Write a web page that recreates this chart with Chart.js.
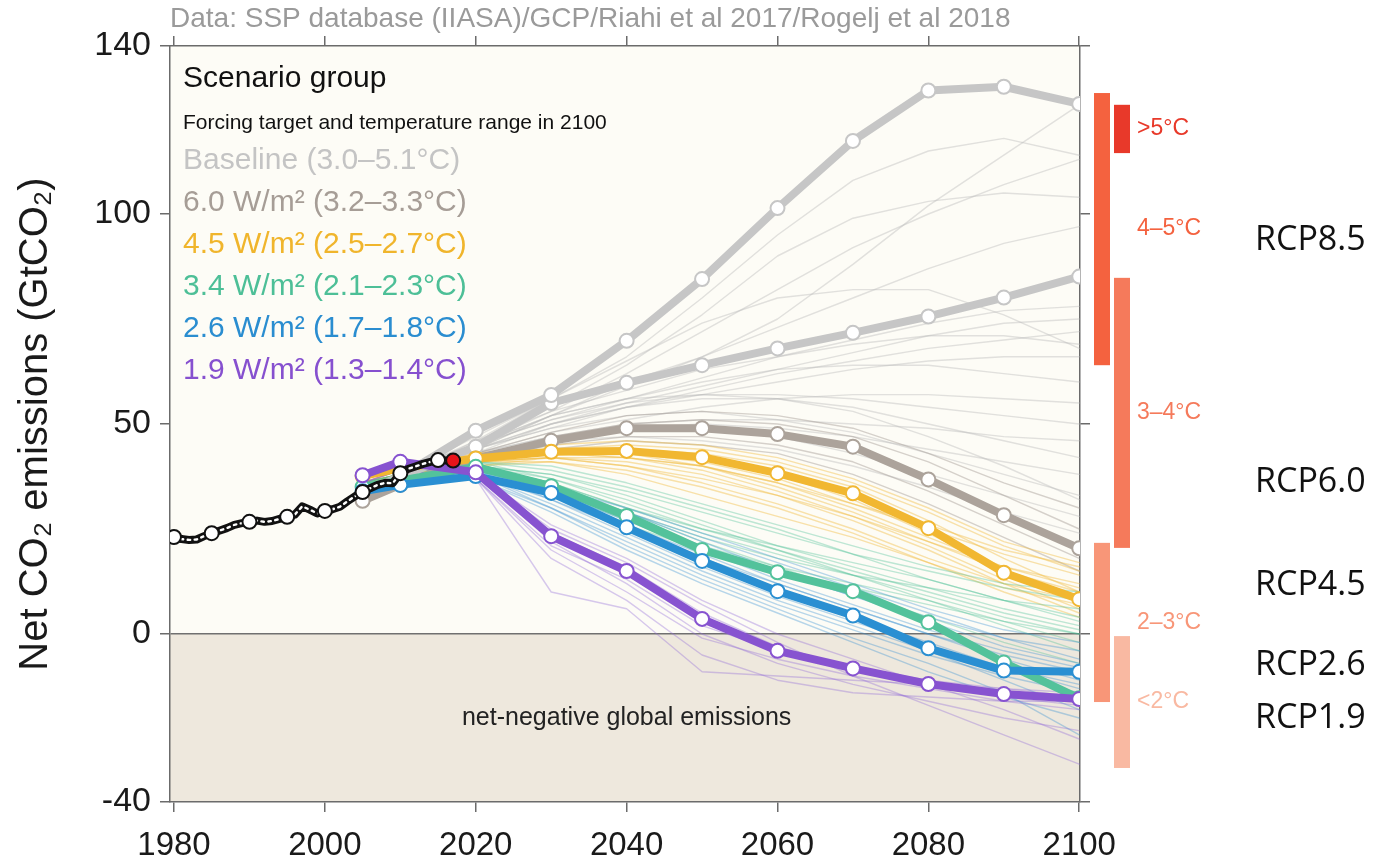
<!DOCTYPE html>
<html>
<head>
<meta charset="utf-8">
<script src="https://cdn.jsdelivr.net/npm/chart.js@4.4.1/dist/chart.umd.min.js"></script>
<style>
  html, body { margin: 0; padding: 0; background: #ffffff; }
  #wrap { width: 1375px; height: 865px; }
</style>
</head>
<body>
<div id="wrap"><canvas id="chart" width="1375" height="865"></canvas></div>
<script>
// ---- Historical net CO2 emissions (GtCO2 per year) ----
const histYears = [1980,1981,1982,1983,1984,1985,1986,1987,1988,1989,1990,1991,1992,1993,1994,1995,1996,1997,1998,1999,
                   2000,2001,2002,2003,2004,2005,2006,2007,2008,2009,2010,2011,2012,2013,2014,2015,2016,2017];
const histValues = [23.1,22.6,22.4,22.5,23.3,24.0,24.6,25.2,26.0,26.4,26.7,27.0,26.7,26.9,27.4,27.9,28.4,30.4,29.6,28.7,
                    29.3,29.7,30.3,31.6,32.8,33.8,34.7,35.5,36.0,35.9,38.3,39.3,39.9,40.5,41.0,41.4,41.3,41.3];

// ---- Scenario projections ----
const scenarioYears = [2005,2010,2020,2030,2040,2050,2060,2070,2080,2090,2100];

const groupNames = ['Baseline (3.0–5.1°C)', '6.0 W/m² (3.2–3.3°C)', '4.5 W/m² (2.5–2.7°C)',
                    '3.4 W/m² (2.1–2.3°C)', '2.6 W/m² (1.7–1.8°C)', '1.9 W/m² (1.3–1.4°C)'];

// group marker pathways
const baselineHigh = [33.5,37.5,48.4,56.9,69.8,84.5,101.4,117.4,129.4,130.3,126.2];
const baselineLow  = [33.5,37.5,44.6,55.0,59.8,64.0,68.0,71.7,75.6,80.1,85.1];
const forcing60    = [31.7,35.5,41.8,46.0,49.0,49.0,47.6,44.6,36.8,28.3,20.4];
const forcing45    = [37.6,39.5,41.8,43.4,43.6,42.1,38.3,33.5,25.2,14.6,8.3];
const forcing34    = [35.0,36.5,39.8,35.2,28.1,20.0,14.7,10.2,2.8,-6.8,-15.3];
const forcing26    = [34.0,35.5,37.6,33.6,25.4,17.4,10.2,4.4,-3.4,-8.7,-9.0];
const forcing19    = [37.8,41.0,38.5,23.3,15.0,3.6,-4.0,-8.2,-11.9,-14.3,-15.5];

// individual model runs per group
const baselineRuns = [
  [34,37,46,56,66,80,95,108,115,118,114],
  [34,38,45,54,64,76,90,99,103,105,104],
  [33,37,44,52,60,66,75,88,102,114,126],
  [34,37,45,53,62,72,82,92,100,107,113],
  [33,36,44,52,59,66,73,80,87,93,97],
  [34,38,47,56,65,74,80,82,82,76,68],
  [34,37,45,51,56,61,66,70,74,77,78],
  [33,36,43,50,55,59,63,67,71,74,75],
  [33,37,44,49,54,58,62,65,68,70,72],
  [34,38,46,53,58,63,66,69,71,71,69],
  [33,36,44,50,54,57,60,63,65,66,66],
  [33,37,45,52,56,60,63,64,64,62,60],
  [33,36,43,48,51,54,56,57,57,56,55],
  [34,37,45,51,55,57,57,56,54,52,50],
  [33,36,43,47,50,51,51,50,49,47,46],
  [33,37,44,50,54,56,56,54,50,46,42],
  [33,36,42,46,49,50,49,47,44,41,38],
  [34,37,44,49,52,53,51,48,43,38,33],
  [33,36,43,47,49,49,47,43,38,33,28],
  [33,36,42,46,47,46,44,40,35,29,24],
  [34,37,45,52,56,57,56,53,47,40,32]
];
const forcing60Runs = [
  [32,36,42,47,50,51,50,47,41,33,25],
  [32,35,41,45,47,47,45,41,34,26,18],
  [33,36,43,48,52,53,52,49,43,36,30],
  [32,35,41,44,46,45,43,38,31,23,15]
];
const forcing45Runs = [
  [37,39,42,44,44,42,38,32,24,15,9],
  [36,39,41,43,42,40,35,29,22,16,12],
  [37,40,42,44,45,44,41,36,29,21,15],
  [36,38,41,42,41,38,33,27,20,12,5],
  [37,39,43,45,46,45,42,37,30,22,17],
  [36,38,40,41,39,35,30,24,17,10,4],
  [37,39,42,43,43,41,37,31,25,19,14],
  [36,39,41,42,40,37,33,28,22,15,10],
  [37,40,43,44,43,40,36,30,23,16,11],
  [36,38,41,41,38,33,28,23,17,11,7],
  [37,39,42,43,42,39,34,28,21,13,6],
  [36,38,40,42,42,40,36,31,26,20,16],
  [37,39,41,42,40,36,31,25,18,12,8],
  [36,39,42,44,44,43,40,35,27,18,10]
];
const forcing34Runs = [
  [35,37,40,36,30,24,19,14,9,4,0],
  [35,37,40,38,33,27,21,16,11,6,2],
  [36,38,41,37,31,25,20,15,10,5,1],
  [35,37,39,34,27,21,16,12,8,3,-2],
  [36,38,41,39,35,30,25,19,13,8,4],
  [35,37,40,37,32,26,20,14,8,2,-4],
  [36,38,40,36,29,23,18,14,11,8,6],
  [35,37,40,38,34,29,24,19,15,11,8],
  [35,37,39,35,29,22,16,10,4,-2,-7],
  [36,38,41,40,36,31,26,21,16,12,10],
  [35,37,40,36,30,25,21,17,13,8,3],
  [35,37,39,33,26,20,15,11,7,3,0]
];
const forcing26Runs = [
  [34,36,38,33,26,19,12,6,0,-5,-9],
  [34,36,38,35,29,22,15,9,3,-3,-7],
  [35,37,39,32,24,16,9,3,-3,-8,-12],
  [34,36,38,34,28,21,15,9,4,-1,-4],
  [34,36,37,30,22,14,7,1,-5,-10,-14],
  [35,37,39,34,27,20,13,7,1,-4,-8],
  [34,36,38,33,25,17,10,4,-2,-8,-13],
  [34,36,38,31,23,15,8,2,-4,-11,-18],
  [35,37,39,35,30,24,18,12,6,1,-2],
  [34,36,37,29,20,12,5,-2,-9,-15,-20],
  [34,36,38,32,25,18,12,6,0,-6,-11],
  [35,37,38,30,21,13,6,-1,-7,-14,-24],
  [34,36,38,34,29,23,17,11,5,-1,-6]
];
const forcing19Runs = [
  [37,40,38,24,16,5,-3,-8,-12,-15,-17],
  [37,40,37,10,6,-9,-10,-11,-12,-13,-14],
  [37,40,38,22,12,0,-7,-12,-16,-20,-23],
  [36,39,37,20,10,-1,-6,-10,-13,-16,-18],
  [37,40,38,26,18,8,0,-6,-12,-18,-25],
  [36,39,37,18,8,-5,-11,-14,-15,-16,-16],
  [37,40,38,25,17,7,-2,-10,-17,-24,-31],
  [36,39,37,21,13,2,-4,-8,-11,-13,-15]
];

// ---- Axes ----
const xTicks = [1980,2000,2020,2040,2060,2080,2100];
const yTicks = [-40,0,50,100,140];

// ---- 2100 emission ranges per warming class ----
const bandLabels = ['>5°C','4–5°C','3–4°C','2–3°C','<2°C'];
const bandLow    = [114.5, 64.0, 20.5, -16.2, -31.9];
const bandHigh   = [126.0, 128.8, 84.8, 21.7, -0.5];

// ---- RCP pathway names, at their emission level ----
const rcpLabels = ['RCP8.5','RCP6.0','RCP4.5','RCP2.6','RCP1.9'];
const rcpLevels = [93.8, 36.2, 11.7, -7.4, -20.0];

// ---- styles ----
const FONT = "'Liberation Sans', Arial, Helvetica, sans-serif";
const thickColors = ['#c6c6c6','#aca39b','#f1b731','#53c29b','#2a8fd2','#8753d0'];
const textColors  = ['#c4c4c4','#a69d96','#f0b52c','#4dbf97','#2a8dd0','#8650cf'];
const thinColors  = ['rgba(185,185,185,0.42)','rgba(165,155,148,0.45)','rgba(240,185,60,0.42)',
                     'rgba(75,190,150,0.36)','rgba(55,145,210,0.36)','rgba(145,105,215,0.36)'];
const bandColors  = ['#e8392a','#f4623f','#f57a5b','#f89678','#f9b9a2'];
const bandColumn  = [1,0,1,0,1];

const toPoints = (xs, ys) => ys.map((v, i) => ({ x: xs[i], y: v }));

const datasets = [];
const runGroups = [baselineRuns, forcing60Runs, forcing45Runs, forcing34Runs, forcing26Runs, forcing19Runs];
runGroups.forEach((runs, g) => {
  runs.forEach(run => datasets.push({
    data: toPoints(scenarioYears, run),
    borderColor: thinColors[g], borderWidth: 1.4,
    pointRadius: 0, order: 60 - g
  }));
});

const markerLines = [
  [baselineHigh, 0], [baselineLow, 0], [forcing60, 1], [forcing45, 2],
  [forcing34, 3], [forcing26, 4], [forcing19, 5]
];
markerLines.forEach(([vals, g]) => datasets.push({
  data: toPoints(scenarioYears, vals),
  borderColor: thickColors[g], borderWidth: 8,
  pointRadius: 7, pointBackgroundColor: '#ffffff',
  pointBorderColor: thickColors[g], pointBorderWidth: 2,
  order: 30 - g
}));

// historical record: black band with a white dotted core, circles every 5 years
datasets.push({
  data: toPoints(histYears, histValues),
  borderColor: '#111111', borderWidth: 8, pointRadius: 0, order: 3
});
datasets.push({
  data: toPoints(histYears, histValues),
  borderColor: '#ffffff', borderWidth: 2.4, borderDash: [2.5, 4.5], pointRadius: 0, order: 2
});
const lastHist = histYears.length - 1;
datasets.push({
  data: toPoints(histYears, histValues),
  showLine: false,
  pointRadius: ctx => (ctx.dataIndex === lastHist || histYears[ctx.dataIndex] % 5 === 0) ? 7 : 0,
  pointBackgroundColor: ctx => ctx.dataIndex === lastHist ? '#e8141b' : '#ffffff',
  pointBorderColor: '#111111', pointBorderWidth: 2,
  order: 1
});

// plot background: light above zero, shaded below (net-negative)
const backdrop = {
  id: 'backdrop',
  beforeDraw(chart) {
    const { ctx, chartArea: a, scales: { y } } = chart;
    const z = y.getPixelForValue(0);
    ctx.save();
    ctx.fillStyle = '#ffffff';
    ctx.fillRect(0, 0, chart.width, chart.height);
    ctx.fillStyle = '#fdfcf6';
    ctx.fillRect(a.left, a.top, a.right - a.left, z - a.top);
    ctx.fillStyle = '#eee8dd';
    ctx.fillRect(a.left, z, a.right - a.left, a.bottom - z);
    ctx.restore();
  }
};

// note inside the negative region
const negativeNote = {
  id: 'negativeNote',
  afterDatasetsDraw(chart) {
    const { ctx, scales: { x, y } } = chart;
    ctx.save();
    ctx.font = `25px ${FONT}`;
    ctx.fillStyle = '#222222';
    ctx.textAlign = 'center';
    ctx.textBaseline = 'middle';
    ctx.fillText('net-negative global emissions', x.getPixelForValue(2040), y.getPixelForValue(-20));
    ctx.restore();
  }
};

// in-plot key
const scenarioKey = {
  id: 'scenarioKey',
  afterDraw(chart) {
    const { ctx, chartArea: a } = chart;
    const left = a.left + 13;
    ctx.save();
    ctx.textAlign = 'left';
    ctx.textBaseline = 'middle';
    ctx.fillStyle = '#111111';
    ctx.font = `30px ${FONT}`;
    ctx.fillText('Scenario group', left, a.top + 33);
    ctx.font = `21px ${FONT}`;
    ctx.fillText('Forcing target and temperature range in 2100', left, a.top + 77);
    ctx.font = `30px ${FONT}`;
    groupNames.forEach((name, i) => {
      ctx.fillStyle = textColors[i];
      ctx.fillText(name, left, a.top + 115 + i * 42);
    });
    ctx.restore();
  }
};

// warming-class bars and RCP names to the right of the plot
const warmingBars = {
  id: 'warmingBars',
  afterDraw(chart) {
    const { ctx, chartArea: a, scales: { y } } = chart;
    ctx.save();
    bandLabels.forEach((label, i) => {
      const top = y.getPixelForValue(bandHigh[i]);
      const bottom = y.getPixelForValue(bandLow[i]);
      const bx = a.right + 14 + bandColumn[i] * 20;
      ctx.fillStyle = bandColors[i];
      ctx.fillRect(bx, top, 16, bottom - top);
      ctx.font = `23px ${FONT}`;
      ctx.textAlign = 'left';
      ctx.textBaseline = 'middle';
      ctx.fillText(label, a.right + 57, (top + bottom) / 2);
    });
    ctx.font = "34px 'Open Sans', 'Liberation Sans', sans-serif";
    ctx.fillStyle = '#111111';
    rcpLabels.forEach((label, i) => {
      ctx.fillText(label, a.right + 175, y.getPixelForValue(rcpLevels[i]));
    });
    ctx.restore();
  }
};

const frameGrid = {
  display: true, drawOnChartArea: false, drawTicks: true, tickLength: 10,
  color: '#6b6b6b', lineWidth: 1.5
};
const frameBorder = { display: true, color: '#6b6b6b', width: 1.5 };
const setTicks = vals => scale => { scale.ticks = vals.map(v => ({ value: v })); };

Chart.defaults.font.family = FONT;

new Chart(document.getElementById('chart'), {
  type: 'line',
  data: { datasets },
  plugins: [backdrop, negativeNote, scenarioKey, warmingBars],
  options: {
    responsive: false,
    animation: false,
    devicePixelRatio: 1,
    layout: { padding: 0 },
    elements: { line: { tension: 0, borderCapStyle: 'round', borderJoinStyle: 'round' } },
    plugins: { legend: { display: false }, tooltip: { enabled: false } },
    scales: {
      x: {
        type: 'linear', position: 'bottom', min: 1979.47, max: 2100.1,
        afterBuildTicks: setTicks(xTicks),
        afterFit: s => { s.height = 63; },
        ticks: { color: '#1a1a1a', font: { size: 33 }, padding: 14, maxRotation: 0, callback: v => String(v) },
        grid: frameGrid, border: frameBorder
      },
      xTop: {
        type: 'linear', position: 'top', min: 1979.47, max: 2100.1,
        afterBuildTicks: setTicks(xTicks),
        afterFit: s => { s.height = 46; },
        ticks: { display: false },
        grid: frameGrid, border: frameBorder,
        title: {
          display: true, align: 'start',
          text: 'Data: SSP database (IIASA)/GCP/Riahi et al 2017/Rogelj et al 2018',
          color: '#9a9a9a', font: { size: 28 }, padding: { top: 2, bottom: 0 }
        }
      },
      y: {
        type: 'linear', position: 'left', min: -40, max: 140,
        afterBuildTicks: setTicks(yTicks),
        afterFit: s => { s.width = 170; },
        ticks: { color: '#1a1a1a', font: { size: 34 }, padding: 9, callback: v => String(v) },
        grid: {
          display: true, drawOnChartArea: true, drawTicks: true, tickLength: 10,
          lineWidth: 1.5, tickColor: '#6b6b6b',
          color: ctx => (ctx.tick && ctx.tick.value === 0) ? '#707070' : 'rgba(0,0,0,0)'
        },
        border: frameBorder,
        title: {
          display: true, text: 'Net CO₂ emissions (GtCO₂)',
          color: '#1a1a1a', font: { size: 40 }, padding: { top: 12, bottom: 0 }
        }
      },
      yRight: {
        type: 'linear', position: 'right', min: -40, max: 140,
        afterBuildTicks: setTicks(yTicks),
        afterFit: s => { s.width = 295; },
        ticks: { display: false },
        grid: frameGrid, border: frameBorder
      }
    }
  }
});
</script>
</body>
</html>
